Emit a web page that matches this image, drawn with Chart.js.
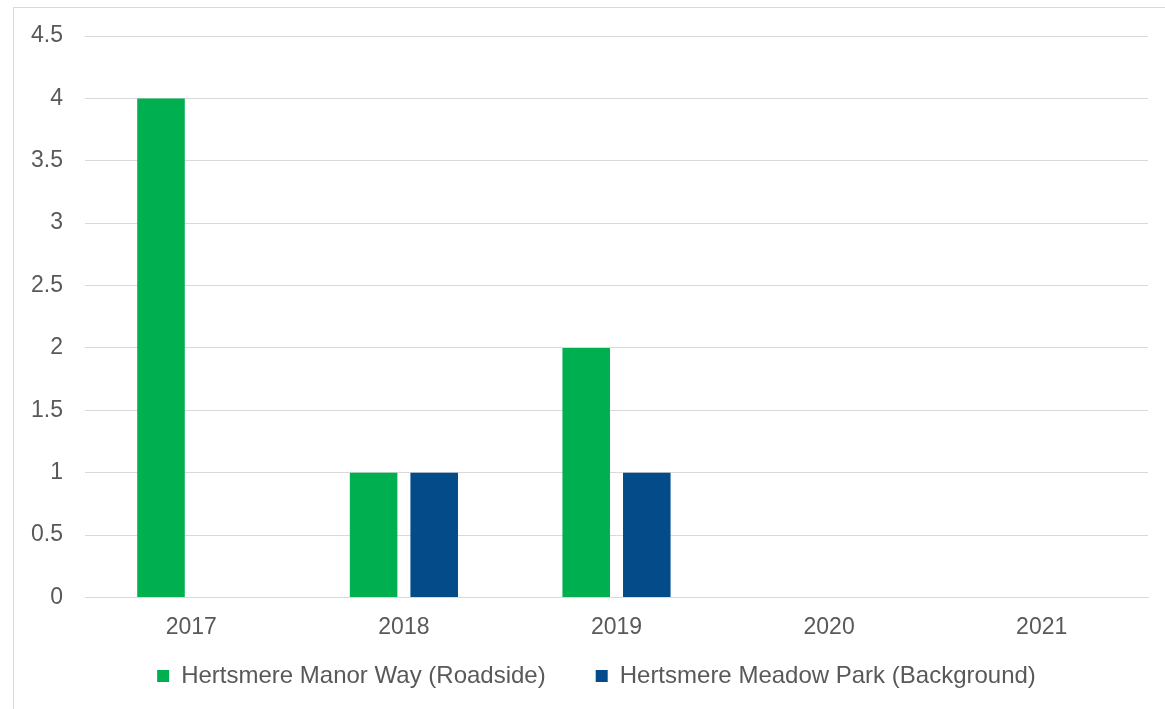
<!DOCTYPE html>
<html>
<head>
<meta charset="utf-8">
<script src="https://cdn.jsdelivr.net/npm/chart.js@4"></script>
<style>
  body { margin: 0; background: #fff; }
  #wrap { position: relative; width: 1165px; height: 709px; overflow: hidden; }
  #frame { position: absolute; left: 13px; top: 7px; width: 1200px; height: 750px; border: 1px solid #d9d9d9; box-sizing: border-box; }
  canvas { position: absolute; left: 0; top: 0; }
</style>
</head>
<body>
<div id="wrap">
  <div id="frame"></div>
  <canvas id="chart" width="1165" height="709"></canvas>
</div>
<script>
const years = ['2017', '2018', '2019', '2020', '2021'];
const manorWay = [4, 1, 2, 0, 0];
const meadowPark = [0, 1, 1, 0, 0];
const yTicks = [0, 0.5, 1, 1.5, 2, 2.5, 3, 3.5, 4, 4.5];

const textColor = '#595959';
const gridColor = '#d9d9d9';
const fontFamily = 'Liberation Sans, Arial, sans-serif';

// move the legend a bit (centre it like the original, under the plot)
const legendNudge = {
  id: 'legendNudge',
  afterLayout(chart) {
    const lg = chart.legend;
    lg.left += 16; lg.right += 16;
    lg.top -= 43; lg.bottom -= 43;
  }
};

new Chart(document.getElementById('chart'), {
  type: 'bar',
  data: {
    labels: years,
    datasets: [
      { label: 'Hertsmere Manor Way (Roadside)', data: manorWay, backgroundColor: '#00b050', barPercentage: 0.785, categoryPercentage: 0.57 },
      { label: 'Hertsmere Meadow Park (Background)', data: meadowPark, backgroundColor: '#044b8a', barPercentage: 0.785, categoryPercentage: 0.57 }
    ]
  },
  plugins: [legendNudge],
  options: {
    responsive: false,
    animation: false,
    layout: { padding: { top: 36, right: 17, left: 13, bottom: -32 } },
    plugins: {
      legend: {
        position: 'bottom',
        labels: {
          color: textColor,
          font: { family: fontFamily, size: 24 },
          boxWidth: 12,
          boxHeight: 12,
          padding: 50
        }
      },
      tooltip: { enabled: false }
    },
    scales: {
      x: {
        grid: { display: false, drawTicks: false },
        border: { display: true, color: gridColor },
        ticks: { color: textColor, font: { family: fontFamily, size: 23 }, padding: 16 }
      },
      y: {
        min: 0,
        max: 4.5,
        afterBuildTicks: scale => { scale.ticks = yTicks.map(v => ({ value: v })); },
        grid: { color: gridColor, drawTicks: false },
        border: { display: false },
        ticks: {
          color: textColor,
          font: { family: fontFamily, size: 23 },
          padding: 22,
          callback: v => String(v)
        },
        afterFit: scale => { scale.width = 72; }
      }
    }
  }
});
</script>
</body>
</html>
